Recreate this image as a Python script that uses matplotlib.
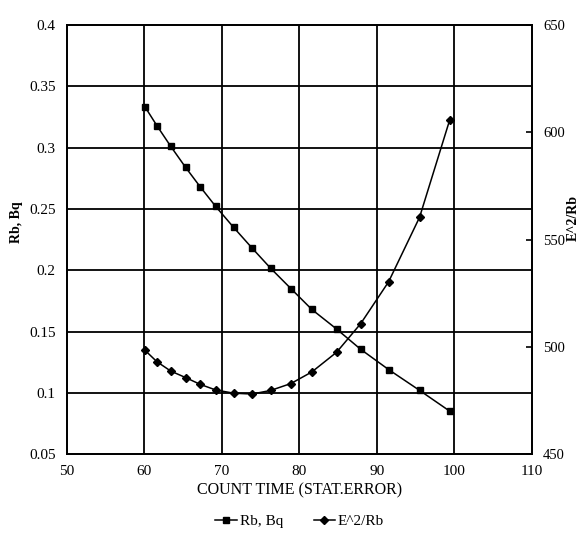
import matplotlib
matplotlib.use("Agg")
import matplotlib.pyplot as plt
from matplotlib.lines import Line2D

# data
count_time = [60.1, 61.6, 63.4, 65.3, 67.2, 69.2, 71.5, 73.9,
              76.3, 78.9, 81.6, 84.8, 87.9, 91.5, 95.5, 99.4]
rb_bq = [0.333, 0.318, 0.301, 0.284, 0.268, 0.252, 0.235, 0.218,
         0.2015, 0.185, 0.168, 0.152, 0.1355, 0.119, 0.102, 0.085]
e2_rb = [498.3, 493.1, 488.7, 485.7, 482.5, 479.9, 478.4, 478.0,
         479.7, 482.9, 488.3, 497.5, 510.8, 530.3, 560.4, 605.9]

x_ticks = [50, 60, 70, 80, 90, 100, 110]
left_ticks = [0.05, 0.1, 0.15, 0.2, 0.25, 0.3, 0.35, 0.4]
left_labels = ["0.05", "0.1", "0.15", "0.2", "0.25", "0.3", "0.35", "0.4"]
right_ticks = [450, 500, 550, 600, 650]

plt.rcParams['font.family'] = ['Liberation Serif', 'DejaVu Serif']

fig = plt.figure(figsize=(5.82, 5.33), dpi=100)
ax = fig.add_axes([0.115, 0.148, 0.799, 0.805])
ax2 = ax.twinx()

ax.set_xlim(50, 110)
ax.set_ylim(0.05, 0.4)
ax2.set_ylim(450, 650)

ax.set_xticks(x_ticks)
ax.set_yticks(left_ticks)
ax.set_yticklabels(left_labels)
ax2.set_yticks(right_ticks)

# black grid, only at the inner positions
for v in x_ticks[1:-1]:
    ax.axvline(v, color='black', lw=1.3, zorder=1)
for v in left_ticks[1:-1]:
    ax.axhline(v, color='black', lw=1.3, zorder=1)

for a in (ax, ax2):
    for s in a.spines.values():
        s.set_linewidth(1.3)
        s.set_color('black')

ax.tick_params(axis='both', length=0, labelsize=11, pad=8)
ax2.tick_params(axis='y', direction='in', length=4, width=1.2, labelsize=10.5, pad=8)

ax.plot(count_time, rb_bq, color='black', lw=1.1, marker='s', ms=5, zorder=3)
ax2.plot(count_time, e2_rb, color='black', lw=1.1, marker='D', ms=4.5, zorder=3)

ax.set_xlabel("COUNT TIME (STAT.ERROR)", fontsize=11.5, labelpad=3)
ax.set_ylabel("Rb, Bq", fontsize=10, fontweight='bold', labelpad=6)
ax.yaxis.set_label_coords(-0.095, 0.54)
ax2.set_ylabel("E^2/Rb", fontsize=10, fontweight='bold', rotation=90)
ax2.yaxis.set_label_coords(1.075, 0.55)

handles = [Line2D([], [], color='black', lw=1.1, marker='s', ms=5),
           Line2D([], [], color='black', lw=1.1, marker='D', ms=4.5)]
fig.legend(handles, ["Rb, Bq", "E^2/Rb"], loc='center', bbox_to_anchor=(0.515, 0.022),
           ncol=2, frameon=False, fontsize=11, handlelength=1.4, handletextpad=0.2,
           columnspacing=2.0)

fig.savefig("out.png", dpi=100)
